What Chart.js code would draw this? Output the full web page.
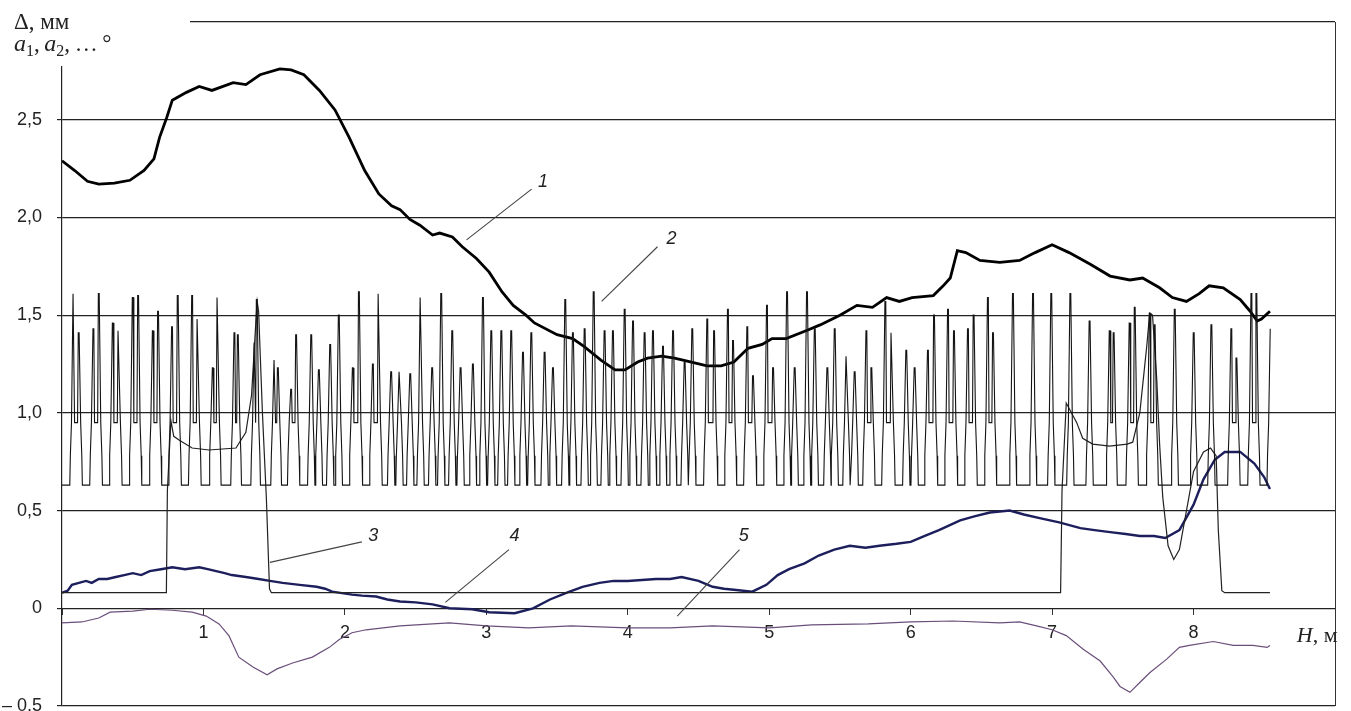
<!DOCTYPE html>
<html>
<head>
<meta charset="utf-8">
<script src="https://cdn.jsdelivr.net/npm/chart.js@4.4.1/dist/chart.umd.min.js"></script>
<style>
  html, body { margin: 0; padding: 0; background: #fff; overflow: hidden; }
  canvas { display: block; }
</style>
</head>
<body>
<canvas id="chart" width="1351" height="711" style="width:1351px;height:711px"></canvas>
<script>
// axis ticks
const yTicks = [-0.5, 0, 0.5, 1.0, 1.5, 2.0, 2.5, 3.0];
const xTickLabels = [1, 2, 3, 4, 5, 6, 7, 8];

// curve 1 - thick black
const curve1 = [
    [0, 2.29], [0.09, 2.24], [0.18, 2.185], [0.26, 2.17], [0.37, 2.175], [0.48, 2.19],
    [0.58, 2.24], [0.65, 2.30], [0.69, 2.41], [0.74, 2.51], [0.78, 2.60], [0.88, 2.64],
    [0.97, 2.67], [1.06, 2.65], [1.21, 2.69], [1.30, 2.68], [1.40, 2.73], [1.54, 2.76],
    [1.62, 2.755], [1.71, 2.73], [1.82, 2.65], [1.93, 2.55], [2.03, 2.41], [2.14, 2.24],
    [2.24, 2.12], [2.33, 2.06], [2.39, 2.04], [2.46, 1.99], [2.53, 1.96], [2.62, 1.91],
    [2.67, 1.92], [2.76, 1.90], [2.83, 1.85], [2.93, 1.79], [3.02, 1.72], [3.11, 1.62],
    [3.19, 1.55], [3.28, 1.50], [3.34, 1.46], [3.50, 1.40], [3.61, 1.38], [3.69, 1.34],
    [3.81, 1.27], [3.91, 1.22], [3.98, 1.22], [4.07, 1.26], [4.14, 1.28], [4.24, 1.29],
    [4.33, 1.28], [4.45, 1.26], [4.56, 1.24], [4.66, 1.24], [4.75, 1.26], [4.85, 1.33],
    [4.95, 1.35], [5.02, 1.38], [5.12, 1.38], [5.26, 1.42], [5.36, 1.45], [5.50, 1.50],
    [5.62, 1.55], [5.73, 1.54], [5.83, 1.59], [5.92, 1.57], [6.01, 1.59], [6.16, 1.60],
    [6.23, 1.65], [6.28, 1.69], [6.33, 1.83], [6.39, 1.82], [6.49, 1.78], [6.63, 1.77],
    [6.77, 1.78], [6.88, 1.82], [7.00, 1.86], [7.12, 1.82], [7.27, 1.76], [7.41, 1.70],
    [7.55, 1.68], [7.64, 1.69], [7.76, 1.64], [7.85, 1.59], [7.95, 1.57], [8.04, 1.61],
    [8.11, 1.65], [8.21, 1.64], [8.33, 1.58], [8.40, 1.52], [8.45, 1.47], [8.48, 1.48],
    [8.54, 1.52]
];

// curve 2 - thin pulses: baseline, step levels and the peaks
const curve2Base = 0.63;
const curve2Steps = [0.78, 0.95];
const curve2Peaks = [
    [0.081, 1.61], [0.118, 1.41], [0.222, 1.43], [0.260, 1.61], [0.359, 1.46], [0.399, 1.42],
    [0.500, 1.59], [0.538, 1.60], [0.642, 1.42], [0.679, 1.52], [0.778, 1.44], [0.818, 1.60],
    [0.920, 1.60], [0.958, 1.48], [1.066, 1.23], [1.099, 1.59], [1.219, 1.41], [1.243, 1.40],
    [1.361, 1.36], [1.377, 1.58], [1.502, 1.27], [1.526, 1.23], [1.620, 1.12], [1.655, 1.40],
    [1.762, 1.40], [1.816, 1.22], [1.896, 1.35], [1.957, 1.50], [2.056, 1.23], [2.099, 1.62],
    [2.198, 1.25], [2.238, 1.61], [2.327, 1.21], [2.386, 1.21], [2.462, 1.20], [2.535, 1.59],
    [2.617, 1.23], [2.681, 1.61], [2.759, 1.42], [2.818, 1.23], [2.905, 1.25], [2.976, 1.59],
    [3.035, 1.42], [3.106, 1.42], [3.176, 1.42], [3.259, 1.31], [3.318, 1.41], [3.412, 1.31],
    [3.471, 1.23], [3.558, 1.58], [3.612, 1.41], [3.695, 1.43], [3.759, 1.62], [3.836, 1.42],
    [3.895, 1.42], [3.978, 1.53], [4.037, 1.47], [4.119, 1.41], [4.178, 1.42], [4.249, 1.34],
    [4.320, 1.42], [4.402, 1.26], [4.456, 1.43], [4.562, 1.48], [4.610, 1.42], [4.708, 1.53],
    [4.744, 1.37], [4.845, 1.44], [4.885, 1.19], [4.984, 1.55], [5.027, 1.23], [5.126, 1.62],
    [5.180, 1.23], [5.267, 1.62], [5.322, 1.43], [5.411, 1.23], [5.463, 1.43], [5.546, 1.29],
    [5.604, 1.21], [5.687, 1.42], [5.722, 1.23], [5.821, 1.57], [5.864, 1.41], [5.969, 1.32],
    [6.028, 1.23], [6.122, 1.32], [6.165, 1.50], [6.264, 1.53], [6.306, 1.42], [6.405, 1.43],
    [6.445, 1.50], [6.546, 1.59], [6.582, 1.41], [6.723, 1.61], [6.865, 1.61], [6.994, 1.61],
    [7.129, 1.61], [7.265, 1.47], [7.407, 1.42], [7.435, 1.41], [7.548, 1.46], [7.584, 1.54],
    [7.690, 1.51], [7.725, 1.45], [7.867, 1.53], [8.001, 1.41], [8.126, 1.45], [8.267, 1.43],
    [8.303, 1.28], [8.409, 1.61], [8.444, 1.61], [8.545, 1.43]
];

// curve 3 - thin black with two humps
const curve3 = [
    [0, 0.08], [0.738, 0.08], [0.745, 0.60], [0.77, 0.96], [0.79, 0.88], [0.83, 0.86],
    [0.92, 0.82], [1.04, 0.81], [1.23, 0.82], [1.30, 0.90], [1.34, 1.09], [1.375, 1.52],
    [1.38, 1.57], [1.39, 1.52], [1.417, 1.00], [1.445, 0.56], [1.467, 0.10], [1.48, 0.08],
    [7.06, 0.08], [7.07, 0.60], [7.10, 1.05], [7.174, 0.95], [7.216, 0.87], [7.287, 0.84],
    [7.407, 0.83], [7.53, 0.84], [7.57, 0.85], [7.62, 1.00], [7.669, 1.34], [7.69, 1.51],
    [7.71, 1.50], [7.74, 1.17], [7.76, 0.84], [7.782, 0.57], [7.82, 0.32], [7.86, 0.25],
    [7.90, 0.30], [7.95, 0.50], [8.00, 0.70], [8.07, 0.80], [8.12, 0.82], [8.16, 0.78],
    [8.175, 0.40], [8.20, 0.09], [8.22, 0.08], [8.54, 0.08]
];

// curve 4 - dark blue
const curve4 = [
    [0, 0.08], [0.04, 0.09], [0.07, 0.12], [0.12, 0.13], [0.17, 0.14], [0.21, 0.13], [0.26, 0.15],
    [0.32, 0.15], [0.38, 0.16], [0.44, 0.17], [0.50, 0.18], [0.56, 0.17], [0.62, 0.19],
    [0.70, 0.20], [0.78, 0.21], [0.87, 0.20], [0.97, 0.21], [1.03, 0.20], [1.09, 0.19],
    [1.15, 0.18], [1.20, 0.17], [1.30, 0.16], [1.39, 0.15], [1.47, 0.14], [1.56, 0.13],
    [1.68, 0.12], [1.80, 0.11], [1.86, 0.10], [1.91, 0.085], [2.05, 0.07], [2.12, 0.065],
    [2.22, 0.06], [2.30, 0.045], [2.39, 0.035], [2.50, 0.03], [2.62, 0.02], [2.74, 0.00],
    [2.90, -0.005], [3.02, -0.02], [3.20, -0.025], [3.33, 0.00], [3.45, 0.045], [3.57, 0.08],
    [3.68, 0.11], [3.80, 0.13], [3.90, 0.14], [4.00, 0.14], [4.10, 0.145], [4.20, 0.15],
    [4.30, 0.15], [4.38, 0.16], [4.50, 0.14], [4.60, 0.11], [4.68, 0.10], [4.75, 0.095],
    [4.88, 0.085], [4.98, 0.12], [5.06, 0.17], [5.14, 0.20], [5.25, 0.23], [5.35, 0.27],
    [5.46, 0.30], [5.57, 0.32], [5.68, 0.31], [5.78, 0.32], [5.90, 0.33], [6.00, 0.34],
    [6.10, 0.37], [6.20, 0.40], [6.35, 0.45], [6.45, 0.47], [6.56, 0.49], [6.70, 0.50],
    [6.80, 0.48], [6.92, 0.46], [7.05, 0.44], [7.20, 0.41], [7.30, 0.40], [7.41, 0.39],
    [7.52, 0.38], [7.62, 0.37], [7.72, 0.37], [7.80, 0.36], [7.90, 0.40], [8.00, 0.53],
    [8.07, 0.66], [8.15, 0.76], [8.22, 0.80], [8.33, 0.80], [8.43, 0.74], [8.50, 0.67],
    [8.54, 0.61]
];

// curve 5 - purple, below zero
const curve5 = [
    [0, -0.075], [0.14, -0.07], [0.26, -0.05], [0.34, -0.02], [0.50, -0.015], [0.62, -0.005],
    [0.78, -0.01], [0.92, -0.02], [1.02, -0.04], [1.11, -0.08], [1.18, -0.14], [1.25, -0.25],
    [1.35, -0.30], [1.45, -0.34], [1.52, -0.31], [1.63, -0.28], [1.77, -0.25], [1.89, -0.20],
    [1.96, -0.16], [2.05, -0.125], [2.15, -0.11], [2.39, -0.09], [2.62, -0.08], [2.74, -0.075],
    [3.00, -0.09], [3.30, -0.10], [3.60, -0.09], [4.00, -0.10], [4.30, -0.10], [4.60, -0.09],
    [5.00, -0.10], [5.30, -0.085], [5.70, -0.08], [6.00, -0.07], [6.30, -0.065], [6.63, -0.075],
    [6.77, -0.07], [6.89, -0.09], [7.00, -0.11], [7.10, -0.14], [7.22, -0.21], [7.34, -0.27],
    [7.43, -0.35], [7.48, -0.40], [7.55, -0.43], [7.62, -0.38], [7.69, -0.33], [7.81, -0.26],
    [7.90, -0.20], [7.97, -0.19], [8.14, -0.17], [8.28, -0.19], [8.42, -0.19], [8.52, -0.20],
    [8.54, -0.19]
];

// numbered callouts: label position and leader line ends (data units)
const calloutText = ['1', '2', '3', '4', '5'];
const calloutAt = [[3.40, 2.18], [4.31, 1.89], [2.20, 0.37], [3.20, 0.37], [4.82, 0.37]];
const calloutFrom = [[3.32, 2.145], [4.21, 1.85], [2.12, 0.34], [3.16, 0.30], [4.79, 0.30]];
const calloutTo = [[2.86, 1.885], [3.815, 1.57], [1.47, 0.235], [2.71, 0.03], [4.35, -0.04]];

const toPts = arr => arr.map(([x, y]) => ({ x, y }));

// each read peak becomes a narrow stepped pulse; close pairs share one pulse
function pulsePoints(peaks) {
    const b = curve2Base;
    const [s1, s2] = curve2Steps;
    const pts = [{ x: 0, y: b }];
    peaks.forEach(([x, top], i) => {
        const prev = peaks[i - 1];
        const next = peaks[i + 1];
        const joinedPrev = prev && x - prev[0] < 0.05;
        const joinedNext = next && next[0] - x < 0.05;
        if (!joinedPrev) {
            pts.push({ x: x - 0.026, y: b });
            pts.push({ x: x - 0.022, y: Math.min(s1, top) });
            pts.push({ x: x - 0.014, y: Math.min(s2, top) });
        } else {
            pts.push({ x: x - 0.008, y: Math.min(s2, top) });
        }
        pts.push({ x: x - 0.003, y: top });
        if (!next) return; // the trace stops on its last rise
        pts.push({ x: x + 0.003, y: top });
        if (!joinedNext) {
            pts.push({ x: x + 0.014, y: Math.min(s2, top) });
            pts.push({ x: x + 0.022, y: Math.min(s1, top) });
            pts.push({ x: x + 0.026, y: b });
        } else {
            pts.push({ x: x + 0.008, y: Math.min(s2, top) });
        }
    });
    return pts;
}

function fmtY(v) {
    if (v >= 3) return '';
    if (v === 0) return '0';
    const s = Math.abs(v).toFixed(1).replace('.', ',');
    return v < 0 ? '\u2013 ' + s : s;
}

const serif = '"Liberation Serif", "DejaVu Serif", serif';

const decorPlugin = {
    id: 'decor',
    afterDatasetsDraw(chart) {
        const { ctx, chartArea, scales } = chart;
        const xs = scales.x, ys = scales.y;
        ctx.save();

        // right frame line
        ctx.strokeStyle = '#333';
        ctx.lineWidth = 1;
        ctx.beginPath();
        ctx.moveTo(chartArea.right + 0.5, chartArea.top);
        ctx.lineTo(chartArea.right + 0.5, chartArea.bottom);
        ctx.stroke();

        // callouts
        ctx.strokeStyle = '#444';
        ctx.lineWidth = 1.1;
        ctx.fillStyle = '#222';
        ctx.font = 'italic 18px "Liberation Sans", Arial, sans-serif';
        ctx.textAlign = 'center';
        ctx.textBaseline = 'middle';
        calloutText.forEach((t, i) => {
            ctx.beginPath();
            ctx.moveTo(xs.getPixelForValue(calloutFrom[i][0]), ys.getPixelForValue(calloutFrom[i][1]));
            ctx.lineTo(xs.getPixelForValue(calloutTo[i][0]), ys.getPixelForValue(calloutTo[i][1]));
            ctx.stroke();
            ctx.fillText(t, xs.getPixelForValue(calloutAt[i][0]), ys.getPixelForValue(calloutAt[i][1]));
        });

        // axis title on x
        ctx.textAlign = 'left';
        ctx.textBaseline = 'alphabetic';
        const hx = xs.getPixelForValue(8.73);
        const hy = ys.getPixelForValue(0) + 34;
        ctx.font = 'italic 22px ' + serif;
        ctx.fillText('H', hx, hy);
        const w = ctx.measureText('H').width;
        ctx.font = '22px ' + serif;
        ctx.fillText(', м', hx + w, hy);

        // white patch behind the y title
        ctx.fillStyle = '#fff';
        ctx.fillRect(0, 0, 190, 66);

        // y title
        ctx.fillStyle = '#222';
        ctx.font = '23px ' + serif;
        ctx.fillText('\u0394, мм', 14, 29);
        let x = 14;
        const base = 51;
        const parts = [['a', 'i'], ['1', 's'], [',\u2009', 'n'], ['a', 'i'], ['2', 's'], [',\u2009\u2026\u2009\u00B0', 'n']];
        parts.forEach(([t, k]) => {
            if (k === 'i') ctx.font = 'italic 24px ' + serif;
            else if (k === 's') ctx.font = '16px ' + serif;
            else ctx.font = '23px ' + serif;
            ctx.fillText(t, x, k === 's' ? base + 5 : base);
            x += ctx.measureText(t).width;
        });
        ctx.restore();
    }
};

const canvas = document.getElementById('chart');
new Chart(canvas, {
    type: 'scatter',
    data: {
        datasets: [
            { label: '2', data: pulsePoints(curve2Peaks), borderColor: '#141414', borderWidth: 1.1 },
            { label: '3', data: toPts(curve3), borderColor: '#222', borderWidth: 1.2 },
            { label: '5', data: toPts(curve5), borderColor: '#6a4f7a', borderWidth: 1.2 },
            { label: '4', data: toPts(curve4), borderColor: '#1c1f5c', borderWidth: 2.4 },
            { label: '1', data: toPts(curve1), borderColor: '#000', borderWidth: 2.8 }
        ].map(d => Object.assign(d, { showLine: true, pointRadius: 0, tension: 0, fill: false }))
    },
    options: {
        responsive: false,
        devicePixelRatio: 1,
        animation: false,
        layout: { autoPadding: false, padding: { top: 22, right: 16, bottom: 5, left: 0 } },
        plugins: { legend: { display: false }, tooltip: { enabled: false } },
        scales: {
            x: {
                type: 'linear',
                position: { y: 0 },
                min: 0,
                max: 9,
                afterBuildTicks: s => { s.ticks = [0, ...xTickLabels, 9].map(v => ({ value: v })); },
                afterFit: s => { s.height = 0; s.paddingLeft = 0; s.paddingRight = 0; },
                ticks: {
                    callback: v => (xTickLabels.includes(v) ? String(v) : ''),
                    color: '#222',
                    font: { family: '"Liberation Sans", Arial, sans-serif', size: 18 },
                    padding: 8,
                    maxRotation: 0
                },
                grid: { drawOnChartArea: false, drawTicks: true, tickLength: 6, color: '#333' },
                border: { display: true, color: '#222', width: 1 }
            },
            y: {
                min: -0.5,
                max: 3.0,
                afterBuildTicks: s => { s.ticks = yTicks.map(v => ({ value: v })); },
                afterFit: s => { s.width = 62; s.paddingTop = 0; s.paddingBottom = 0; },
                ticks: {
                    callback: v => fmtY(v),
                    color: '#222',
                    font: { family: '"Liberation Sans", Arial, sans-serif', size: 18 },
                    padding: 15
                },
                grid: { color: '#222', lineWidth: 1.2, tickLength: 5 },
                border: { display: true, color: '#222', width: 1.2 }
            }
        }
    },
    plugins: [decorPlugin]
});
</script>
</body>
</html>
